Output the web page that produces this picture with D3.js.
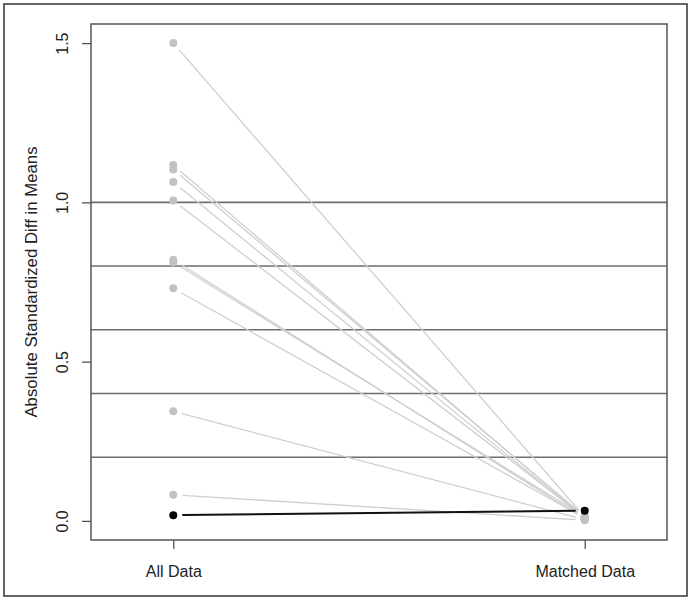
<!DOCTYPE html>
<html>
<head>
<meta charset="utf-8">
<script src="https://cdn.jsdelivr.net/npm/d3@7"></script>
<style>
  body { margin: 0; background: #fff; }
  svg { display: block; font-family: "Liberation Sans", Arial, sans-serif; }
</style>
</head>
<body>
<div id="chart"></div>
<script>
// Balance plot: absolute standardized difference in means, before / after matching
const groups = ['All Data', 'Matched Data'];
const allData = [1.50, 1.117, 1.103, 1.064, 1.006, 0.820, 0.812, 0.730, 0.344, 0.082];
const matchedData = [0.012, 0.010, 0.014, 0.008, 0.011, 0.006, 0.013, 0.009, 0.004, 0.002];
// highlighted covariate (drawn in black)
const highlightAll = 0.018;
const highlightMatched = 0.032;
const yTicks = [0, 0.5, 1.0, 1.5];
const refLines = [0.2, 0.4, 0.6, 0.8, 1.0];
const yTitle = 'Absolute Standardized Diff in Means';

const width = 691, height = 601;
const margin = { top: 24, right: 24, bottom: 61, left: 91 };

const svg = d3.select('#chart')
  .append('svg')
  .attr('width', width)
  .attr('height', height);

// outer frame
svg.append('rect')
  .attr('x', 4).attr('y', 4)
  .attr('width', 683).attr('height', 592)
  .attr('fill', 'none')
  .attr('stroke', '#333')
  .attr('stroke-width', 1.5);

const x = d3.scaleLinear()
  .domain([0.8, 2.2])
  .range([margin.left, width - margin.right]);
const y = d3.scaleLinear()
  .domain([-0.06, 1.56])
  .range([height - margin.bottom, margin.top]);

// reference lines
svg.append('g')
  .selectAll('line')
  .data(refLines)
  .join('line')
  .attr('x1', x(0.8))
  .attr('x2', x(2.2))
  .attr('y1', d => y(d))
  .attr('y2', d => y(d))
  .attr('stroke', '#6e6e6e')
  .attr('stroke-width', 1.6);

// segment shortened at both ends (like R type = "b")
const gap = 9;
function trimmed(x1, y1, x2, y2) {
  const dx = x2 - x1, dy = y2 - y1;
  const len = Math.sqrt(dx * dx + dy * dy);
  const ux = dx / len, uy = dy / len;
  return [x1 + ux * gap, y1 + uy * gap, x2 - ux * gap, y2 - uy * gap];
}

const pairs = allData.map((v, i) => ({ a: v, b: matchedData[i] }));

svg.append('g')
  .selectAll('line')
  .data(pairs)
  .join('line')
  .each(function (d) {
    const t = trimmed(x(1), y(d.a), x(2), y(d.b));
    d3.select(this)
      .attr('x1', t[0]).attr('y1', t[1])
      .attr('x2', t[2]).attr('y2', t[3]);
  })
  .attr('stroke', '#cfcfcf')
  .attr('stroke-width', 1.3);

const pts = svg.append('g');
pts.selectAll('circle.a')
  .data(pairs)
  .join('circle')
  .attr('class', 'a')
  .attr('cx', x(1))
  .attr('cy', d => y(d.a))
  .attr('r', 4)
  .attr('fill', '#c2c2c2');
pts.selectAll('circle.b')
  .data(pairs)
  .join('circle')
  .attr('class', 'b')
  .attr('cx', x(2))
  .attr('cy', d => y(d.b))
  .attr('r', 4)
  .attr('fill', '#c2c2c2');

// highlighted covariate
const h = trimmed(x(1), y(highlightAll), x(2), y(highlightMatched));
svg.append('line')
  .attr('x1', h[0]).attr('y1', h[1])
  .attr('x2', h[2]).attr('y2', h[3])
  .attr('stroke', '#111')
  .attr('stroke-width', 2);
svg.append('g')
  .selectAll('circle')
  .data([[1, highlightAll], [2, highlightMatched]])
  .join('circle')
  .attr('cx', d => x(d[0]))
  .attr('cy', d => y(d[1]))
  .attr('r', 4)
  .attr('fill', '#000');

// plot box
svg.append('rect')
  .attr('x', x(0.8)).attr('y', y(1.56))
  .attr('width', x(2.2) - x(0.8))
  .attr('height', y(-0.06) - y(1.56))
  .attr('fill', 'none')
  .attr('stroke', '#555')
  .attr('stroke-width', 1.5);

// y axis
const yAxis = svg.append('g')
  .attr('transform', `translate(${margin.left},0)`)
  .call(d3.axisLeft(y).tickValues(yTicks).tickFormat(d3.format('.1f')).tickSize(9));
yAxis.select('.domain').remove();
yAxis.selectAll('line').attr('stroke', '#555').attr('stroke-width', 1.3);
yAxis.selectAll('text')
  .attr('transform', 'rotate(-90)')
  .attr('x', 0)
  .attr('y', -23)
  .attr('dy', 0)
  .attr('text-anchor', 'middle')
  .attr('fill', '#222')
  .style('font-size', '16px');

// x axis
const xAxis = svg.append('g')
  .attr('transform', `translate(0,${height - margin.bottom})`)
  .call(d3.axisBottom(x).tickValues([1, 2]).tickFormat(d => groups[d - 1]).tickSize(9));
xAxis.select('.domain').remove();
xAxis.selectAll('line').attr('stroke', '#555').attr('stroke-width', 1.3);
xAxis.selectAll('text')
  .attr('y', 37)
  .attr('dy', 0)
  .attr('fill', '#222')
  .style('font-size', '16px');

// y title
svg.append('text')
  .attr('transform', `translate(37,${y(0.75)}) rotate(-90)`)
  .attr('text-anchor', 'middle')
  .attr('fill', '#222')
  .style('font-size', '16.8px')
  .text(yTitle);
</script>
</body>
</html>
